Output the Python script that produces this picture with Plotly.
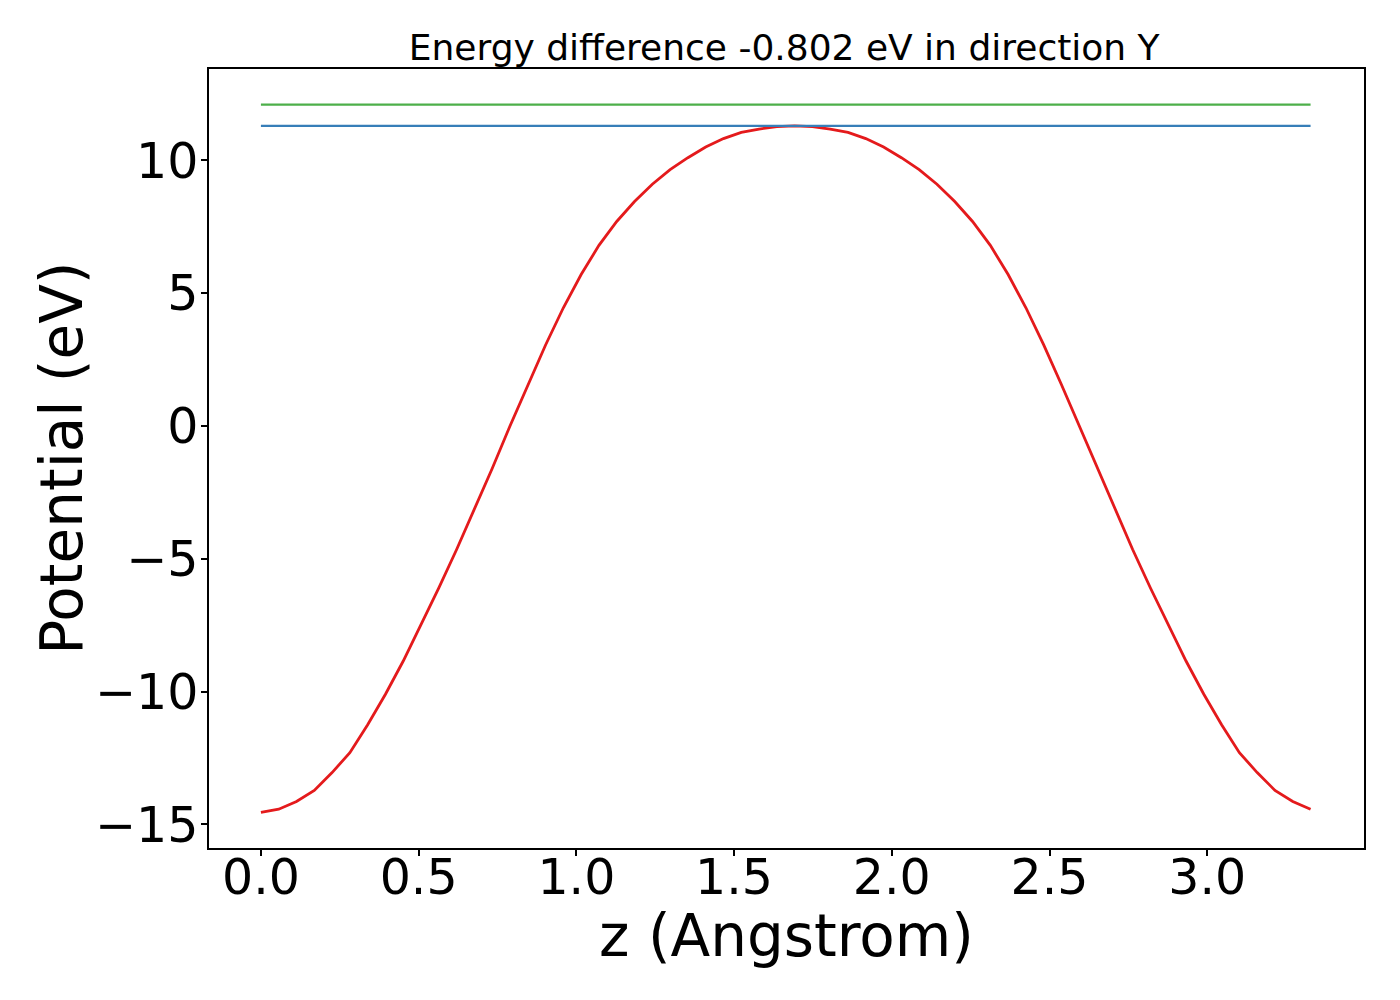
import plotly.graph_objects as go

# potential profile along z (Angstrom), 60 samples
step = 0.0564
z_vals = [round(i * step, 4) for i in range(60)]
potential = [
    -14.55, -14.43, -14.14, -13.72, -13.05, -12.30, -11.25, -10.10, -8.85, -7.50,
    -6.10, -4.65, -3.15, -1.60, 0.00, 1.55, 3.05, 4.45, 5.70, 6.80,
    7.70, 8.45, 9.10, 9.65, 10.10, 10.50, 10.82, 11.05, 11.18, 11.27,
    11.30, 11.27, 11.18, 11.05, 10.82, 10.50, 10.10, 9.65, 9.10, 8.45,
    7.70, 6.80, 5.70, 4.45, 3.05, 1.55, 0.00, -1.60, -3.15, -4.65,
    -6.10, -7.50, -8.85, -10.10, -11.25, -12.30, -13.05, -13.72, -14.14, -14.43,
]
barrier_top = 11.30
reference_level = 12.102
energy_diff = -0.802
direction = "Y"

font = "DejaVu Sans"

fig = go.Figure()
fig.add_trace(go.Scatter(x=z_vals, y=potential, mode="lines",
                         line=dict(color="#e41a1c", width=2.8)))
fig.add_trace(go.Scatter(x=[z_vals[0], z_vals[-1]], y=[barrier_top, barrier_top],
                         mode="lines", line=dict(color="#377eb8", width=2.2)))
fig.add_trace(go.Scatter(x=[z_vals[0], z_vals[-1]], y=[reference_level, reference_level],
                         mode="lines", line=dict(color="#4daf4a", width=2.2)))

axis_common = dict(
    showline=True, linecolor="black", linewidth=1.5, mirror=True,
    ticks="outside", ticklen=6, tickwidth=1.5, tickcolor="black",
    showgrid=False, zeroline=False,
    tickfont=dict(family=font, size=49, color="black"),
)

# page has an 8px body margin, so margins are shifted to land the plot box
fig.update_layout(
    width=1400, height=1000,
    plot_bgcolor="white", paper_bgcolor="white",
    showlegend=False,
    margin=dict(l=201, r=44, t=61, b=160),
    title=dict(text=f"Energy difference {energy_diff} eV in direction {direction}",
               font=dict(family=font, size=36, color="black"),
               x=0.498, xanchor="center", xref="paper",
               y=0.961, yanchor="middle", yref="container"),
    xaxis=dict(axis_common, range=[-0.1646, 3.497],
               tickvals=[0, 0.5, 1.0, 1.5, 2.0, 2.5, 3.0],
               ticktext=["0.0", "0.5", "1.0", "1.5", "2.0", "2.5", "3.0"],
               ticklabelstandoff=-21),
    yaxis=dict(axis_common, range=[-15.89, 13.44],
               tickvals=[-15, -10, -5, 0, 5, 10],
               ticklabelstandoff=-7),
    annotations=[
        dict(text="z (Angstrom)", xref="paper", yref="paper", x=0.5, y=-0.113,
             xanchor="center", yanchor="middle", showarrow=False,
             font=dict(family=font, size=58, color="black")),
        dict(text="Potential (eV)", xref="paper", yref="paper", x=-0.128, y=0.5,
             xanchor="center", yanchor="middle", showarrow=False, textangle=-90,
             font=dict(family=font, size=58, color="black")),
    ],
)

fig.write_html("out.html")
